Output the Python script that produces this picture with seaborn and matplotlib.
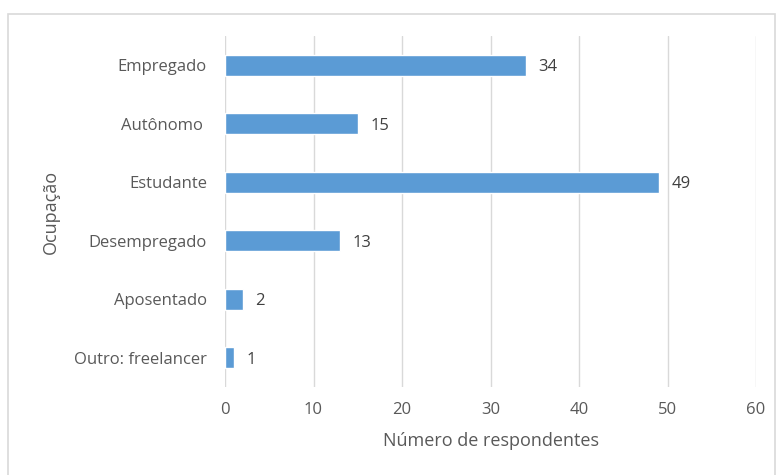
import matplotlib
matplotlib.use("Agg")
import matplotlib.pyplot as plt
from matplotlib.patches import Rectangle
import seaborn as sns
import pandas as pd

categories = ["Empregado", "Autônomo ", "Estudante", "Desempregado", "Aposentado", "Outro: freelancer"]
respondentes = [34, 15, 49, 13, 2, 1]
x_ticks = [0, 10, 20, 30, 40, 50, 60]

df = pd.DataFrame({"Ocupação": categories, "Respondentes": respondentes})

sns.set_theme(style="white")
plt.rcParams["font.family"] = ["Open Sans", "DejaVu Sans"]

text_color = "#595959"
grid_color = "#D9D9D9"
bar_color = "#5B9BD5"

fig = plt.figure(figsize=(7.77, 4.75), dpi=100)
ax = fig.add_axes([0.2896, 0.1853, 0.6834, 0.7389])

sns.barplot(data=df, x="Respondentes", y="Ocupação", orient="h",
            color=bar_color, saturation=1, width=0.36, ax=ax, zorder=3)

ax.set_xlim(0, 60)
ax.set_xticks(x_ticks)
ax.set_xticklabels([str(t) for t in x_ticks])
ax.set_ylim(len(categories) - 0.5, -0.5)

ax.grid(axis="x", color=grid_color, linewidth=1, zorder=0)
ax.grid(axis="y", visible=False)
for side in ["top", "right", "bottom", "left"]:
    ax.spines[side].set_visible(False)

ax.tick_params(axis="both", length=0, labelsize=12, colors=text_color)
ax.tick_params(axis="y", pad=13)
ax.tick_params(axis="x", pad=11)

ax.set_xlabel("Número de respondentes", fontsize=13, color=text_color, labelpad=10)
ax.set_ylabel("Ocupação", fontsize=13, color=text_color, labelpad=10)

for container in ax.containers:
    texts = ax.bar_label(container, labels=[str(v) for v in respondentes], padding=9,
                         fontsize=12, color="#404040")
    for t in texts:
        t.set_verticalalignment("center_baseline")

# outer chart frame
fig.patches.append(Rectangle((8 / 777, -0.01), 767 / 777, 1 - 14 / 475 + 0.01,
                             transform=fig.transFigure, fill=False,
                             edgecolor=grid_color, linewidth=1.2))

fig.savefig("out.png", dpi=100)
